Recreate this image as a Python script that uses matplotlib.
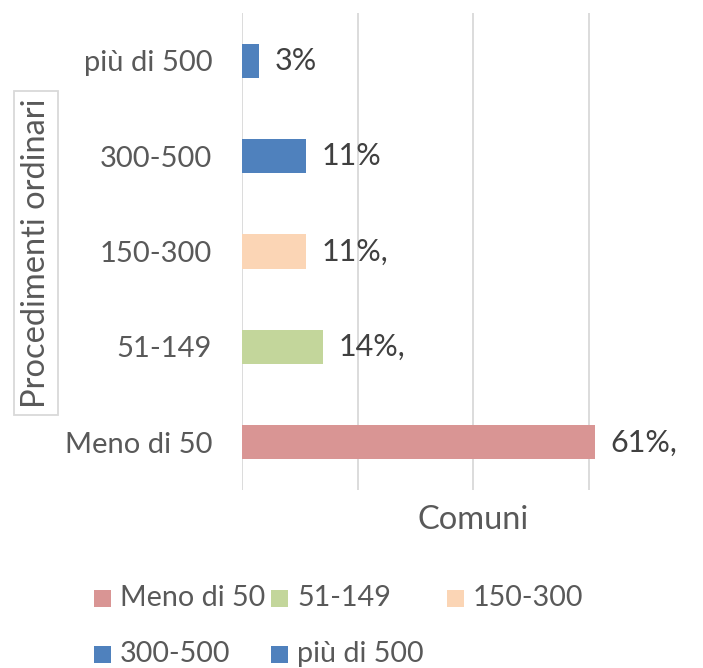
import matplotlib.pyplot as plt
from matplotlib.patches import Rectangle

categories = ["Meno di 50", "51-149", "150-300", "300-500", "più di 500"]
values = [61, 14, 11, 11, 3]
labels = ["61%,", "14%,", "11%,", "11%", "3%"]
colors = ["#D99594", "#C3D69B", "#FBD5B5", "#4F81BD", "#4F81BD"]
gridlines = [0, 20, 40, 60]

plt.rcParams['font.family'] = ['Lato', 'DejaVu Sans']

fig = plt.figure(figsize=(7.03, 6.68), dpi=100)
ax = fig.add_axes([242/703, 1 - 490/668, 405/703, 477/668])

ypos = list(range(len(categories)))
for g in gridlines:
    ax.axvline(g, color="#D9D9D9", lw=1.3, zorder=0)
ax.barh(ypos, values, height=0.36, color=colors, zorder=2)
for y, v, t in zip(ypos, values, labels):
    ax.text(v + 2.7, y, t, va="center", ha="left", fontsize=22, color="#404040")

ax.set_xlim(0, 70)
ax.set_ylim(-0.5, 4.5)
ax.set_yticks(ypos)
ax.set_yticklabels(categories, fontsize=21, color="#595959")
ax.tick_params(axis="y", length=0, pad=21.5)
ax.set_xticks([])
for s in ax.spines.values():
    s.set_visible(False)

# y axis title in a box
fig.text(36/703, 1 - 253/668, "Procedimenti ordinari", rotation=90, ha="center", va="center",
         fontsize=23.5, color="#595959",
         bbox=dict(boxstyle="square,pad=0.22", fc="white", ec="#D9D9D9", lw=1.3))
fig.text(473/703, 1 - 520/668, "Comuni", ha="center", va="center", fontsize=23.5, color="#595959")

# legend laid out by hand
leg_x = [94, 271, 447, 94, 271]
leg_y = [598, 598, 598, 654, 654]
for c, name, lx, ly in zip(colors, categories, leg_x, leg_y):
    fig.patches.append(Rectangle((lx/703, 1 - (ly + 8.5)/668), 17/703, 17/668,
                                 transform=fig.transFigure, fc=c, ec="none"))
    fig.text((lx + 26)/703, 1 - ly/668, name, ha="left", va="center", fontsize=20.7, color="#595959")

plt.savefig("out.png")
